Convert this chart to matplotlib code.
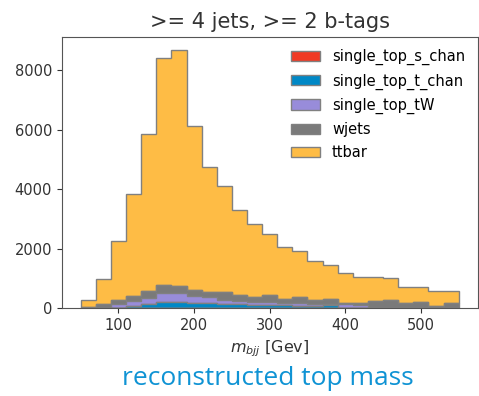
import numpy as np
import matplotlib
matplotlib.use("Agg")
import matplotlib.pyplot as plt

# m_bjj bins, 50..550 GeV in 20 GeV steps
edges = np.arange(50, 551, 20)

labels = ["single_top_s_chan", "single_top_t_chan", "single_top_tW", "wjets", "ttbar"]
colors = ["#f03a24", "#0088c6", "#988cda", "#7a7a7a", "#febc45"]

# cumulative heights (stack tops)
top_t_chan = [0, 0, 15, 78, 145, 223, 223, 190, 168, 134, 134, 112, 112,
              100, 90, 67, 100, 10, 5, 0, 0, 0, 0, 0, 0]
top_tW = [10, 20, 134, 256, 335, 503, 503, 413, 369, 280, 257, 223, 223,
          168, 168, 134, 134, 134, 123, 20, 15, 10, 10, 5, 10]
top_wjets = [35, 134, 280, 413, 580, 782, 748, 625, 536, 536, 458, 369, 458,
             324, 369, 280, 324, 190, 168, 245, 290, 168, 212, 78, 168]
top_ttbar = [280, 994, 2245, 3831, 5842, 8400, 8679, 6110, 4736, 4099, 3295,
             2837, 2491, 2066, 1921, 1597, 1452, 1184, 1061, 1061, 1005, 726,
             726, 592, 592]
s_chan = [0, 2, 5, 8, 10, 12, 12, 10, 8, 6, 5, 4, 4, 3, 3, 2, 2, 2, 1, 1,
          1, 1, 1, 0, 0]

t_chan = np.clip(np.array(top_t_chan) - np.array(s_chan), 0, None)
tW = np.array(top_tW) - np.array(top_t_chan)
wjets = np.array(top_wjets) - np.array(top_tW)
ttbar = np.array(top_ttbar) - np.array(top_wjets)

centers = 0.5 * (edges[:-1] + edges[1:])
weights = [s_chan, t_chan, tW, wjets, ttbar]

fig = plt.figure(figsize=(4.79, 3.96), dpi=100)
ax = fig.add_axes([0.129, 0.2215, 0.868, 0.6855])

ax.hist([centers] * 5, bins=edges, weights=weights, stacked=True,
        histtype="stepfilled", color=colors, edgecolor="grey",
        linewidth=1, label=labels)

ax.set_yticks([0, 2000, 4000, 6000, 8000])
ax.set_xticks([100, 200, 300, 400, 500])
ax.tick_params(labelsize=10.5, colors="#333333")
for s in ax.spines.values():
    s.set_color("#555555")

ax.set_title(">= 4 jets, >= 2 b-tags", fontsize=15, color="#333333", pad=6)
ax.set_xlabel(r"$m_{bjj}$ [Gev]", fontsize=11.5, color="#333333", labelpad=4)

# keep legend in plotting order (s_chan first)
handles, labs = ax.get_legend_handles_labels()
order = [labs.index(l) for l in labels]
ax.legend([handles[i] for i in order], [labs[i] for i in order],
          loc="upper right", frameon=False, fontsize=10.5,
          handlelength=2.0, labelspacing=0.55, borderaxespad=0.45)

fig.text(0.56, 0.012, "reconstructed top mass", ha="center", va="bottom",
         fontsize=19, color="#0f93d4", family="Open Sans")

fig.savefig("out.png", dpi=100)
